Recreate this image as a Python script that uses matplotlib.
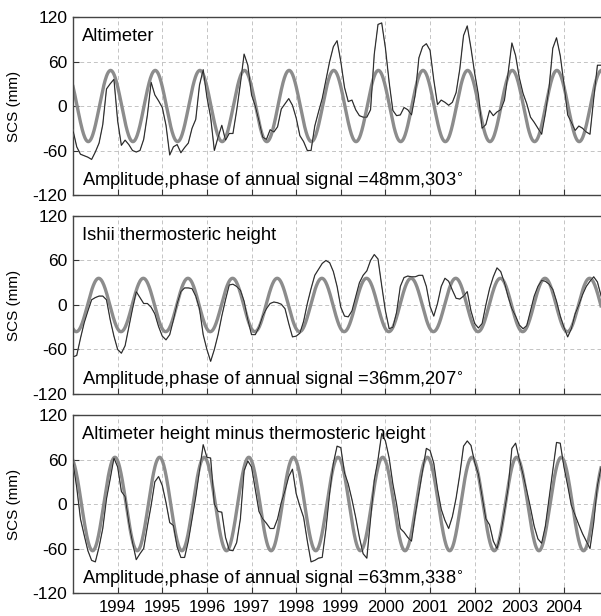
import numpy as np
import matplotlib
matplotlib.use('Agg')
import matplotlib.pyplot as plt

plt.rcParams['font.family'] = ['Liberation Sans', 'DejaVu Sans']
plt.rcParams['axes.unicode_minus'] = False

# monthly values starting Jan 1993 (mm)
altimeter = [-33, -55, -65, -67, -69, -72, -62, -50, -25, 23, 30, 36,
             -20, -53, -46, -52, -60, -62, -60, -45, -12, 32, 15, 7,
             -2, -26, -66, -55, -52, -63, -56, -50, -30, -18, 28, 49,
             12, -15, -60, -42, -26, -46, -37, -37, -6, 30, 70, 55,
             15, 0, -20, -42, -45, -32, -35, -28, -4, 3, 10, 1,
             -16, -40, -48, -60, -60, -27, -8, 10, 35, 60, 80, 88,
             60, 25, 6, 8, -5, -13, -15, -15, -5, 70, 110, 112,
             78, 32, -6, -13, -12, -2, -5, -12, 15, 65, 80, 84,
             75, 35, 2, 8, 5, 1, 5, 18, 50, 95, 108, 78,
             44, 15, -30, -25, -6, -13, -8, -5, 8, 45, 85, 68,
             38, 17, 3, -15, -22, -30, -38, -10, 25, 78, 92, 68,
             30, -12, -22, -33, -27, -30, -35, -38, 10, 55, 55]

ishii = [-70, -68, -45, -24, -8, 7, 10, 12, 12, 7, -20, -42,
         -60, -65, -55, -30, -5, 18, 10, 2, 2, -3, -12, -29,
         -42, -47, -40, -20, 2, 18, 23, 23, 22, 12, -5, -40,
         -60, -76, -60, -40, -15, 7, 27, 28, 25, 20, 5, -20,
         -40, -40, -30, -15, -5, 2, 4, 3, 1, -5, -25, -43,
         -42, -38, -22, 2, 22, 40, 48, 56, 60, 57, 45, 25,
         -3, -15, -16, -8, 11, 30, 40, 46, 60, 68, 62, 26,
         -8, -32, -30, -10, 25, 37, 39, 38, 38, 40, 40, 25,
         -2, -15, 2, 25, 36, 32, 20, 9, 8, 12, 18, -8,
         -25, -31, -25, 0, 22, 38, 50, 45, 30, 11, -5, -15,
         -27, -32, -28, -8, 12, 25, 33, 32, 28, 21, 5, -15,
         -30, -43, -32, -12, 0, 14, 25, 32, 38, 31, 12]

difference = [56, 22, -20, -42, -63, -76, -78, -58, -33, 7, 34, 62,
              50, 17, 10, -25, -52, -75, -67, -60, -30, -2, 30, 37,
              25, 2, -25, -29, -58, -72, -72, -50, -20, 10, 45, 80,
              63, 62, 0, -10, -11, -45, -62, -63, -52, -20, 45, 58,
              50, 20, -10, -20, -26, -33, -33, -20, 2, 18, 37, 47,
              14, -3, -18, -50, -78, -76, -73, -72, -34, 15, 55, 78,
              76, 42, 27, 6, -18, -45, -67, -73, -20, 32, 60, 95,
              85, 62, 27, 0, -33, -38, -45, -50, -15, 15, 45, 75,
              72, 55, 20, -7, -22, -33, -17, 8, 40, 78, 85, 79,
              56, 40, 10, -20, -28, -50, -60, -40, -10, 22, 75, 82,
              60, 40, 18, -5, -30, -47, -53, -30, 8, 45, 83, 82,
              50, 25, -2, -15, -28, -40, -50, -60, -25, 25, 50]

titles = ['Altimeter', 'Ishii thermosteric height',
          'Altimeter height minus thermosteric height']
amplitudes = [48, 36, 63]   # mm
phases = [303, 207, 338]    # degrees
year_ticks = list(range(1994, 2005))

series = [altimeter, ishii, difference]

fig = plt.figure(figsize=(6.01, 6.16), dpi=100)
bottoms = [0.6834, 0.3604, 0.0373]
t_fit = np.linspace(1993, 2004.83, 1200)

for i in range(3):
    ax = fig.add_axes([0.1215, bottoms[i], 0.8785, 0.289])
    vals = np.array(series[i], dtype=float)
    t = 1993 + np.arange(len(vals)) / 12.0

    # annual signal from the stated amplitude and phase
    fit = amplitudes[i] * np.cos(2 * np.pi * (t_fit - phases[i] / 360.0))
    ax.plot(t_fit, fit, color='#8c8c8c', lw=2.4, zorder=2)
    ax.plot(t, vals, color='#9a9a9a', lw=1.0, zorder=3)
    ax.plot(t, vals, color='#1a1a1a', lw=0.6, zorder=4)

    ax.set_xlim(1993, 2004.83)
    ax.set_ylim(-120, 120)
    ax.set_yticks([-120, -60, 0, 60, 120])
    ax.set_xticks(year_ticks)
    if i == 2:
        ax.set_xticklabels([str(y) for y in year_ticks])
    else:
        ax.set_xticklabels([])
    ax.grid(True, color='#c4c4c4', ls=(0, (4, 3)), lw=0.7)
    ax.tick_params(direction='in', length=4, color='#333333')
    ax.tick_params(axis='y', labelsize=12.5, pad=4)
    ax.tick_params(axis='x', labelsize=12, pad=5)
    ax.spines['right'].set_visible(False)
    for s in ['left', 'top', 'bottom']:
        ax.spines[s].set_color('#444444')
        ax.spines[s].set_linewidth(1.0)
    ax.set_ylabel('SCS (mm)', fontsize=11)
    ax.yaxis.set_label_coords(-0.098, 0.5)

    ax.text(0.017, 0.888, titles[i], transform=ax.transAxes,
            fontsize=13.2, va='center', ha='left')
    ax.text(0.017, 0.075,
            'Amplitude,phase of annual signal =%dmm,%d$^{\\circ}$' % (amplitudes[i], phases[i]),
            transform=ax.transAxes, fontsize=13.2, va='center', ha='left')

fig.savefig('out.png', dpi=100)
